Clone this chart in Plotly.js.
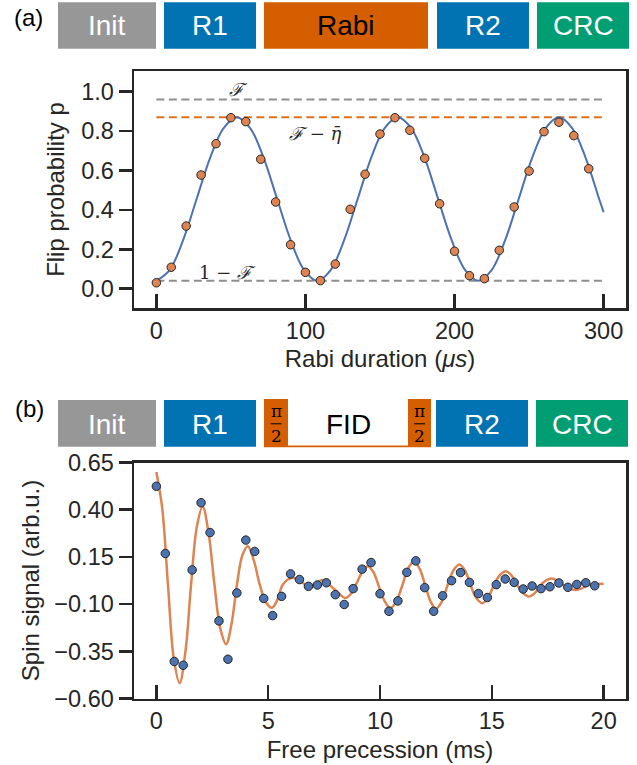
<!DOCTYPE html>
<html>
<head>
<meta charset="utf-8">
<script src="https://cdn.plot.ly/plotly-3.0.1.min.js"></script>
<style>html,body{margin:0;padding:0;background:#fff;}#chart{width:637px;height:765px;}</style>
</head>
<body>
<div id="chart"></div>
<script>
// ---- Panel (a): Rabi oscillation ----
const rabiX = [0,10,20,30,40,50,60,70,80,90,100,110,120,130,140,150,160,170,180,190,200,210,220,230,240,250,260,270,280,290];
const rabiP = [0.030,0.109,0.318,0.577,0.736,0.868,0.848,0.657,0.440,0.223,0.083,0.041,0.125,0.403,0.581,0.785,0.868,0.804,0.662,0.431,0.190,0.066,0.051,0.195,0.415,0.597,0.797,0.845,0.777,0.609];
const rabiFitX = [0,9,18,27,36,45,54,63,72,81,90,99,108,117,126,135,144,153,162,171,180,189,198,207,216,225,234,243,252,261,270,279,288,297,300];
const rabiFitP = [0.040,0.096,0.248,0.455,0.663,0.814,0.870,0.814,0.663,0.455,0.248,0.096,0.040,0.096,0.248,0.455,0.663,0.814,0.870,0.814,0.663,0.455,0.248,0.096,0.040,0.096,0.248,0.455,0.663,0.814,0.870,0.814,0.663,0.455,0.388];
const levelX = [0,300];
const levelF = 0.96, levelFeta = 0.87, level1F = 0.04;

// ---- Panel (b): FID ----
const fidX = [0,0.4,0.8,1.2,1.6,2.0,2.4,2.8,3.2,3.6,4.0,4.4,4.8,5.2,5.6,6.0,6.4,6.8,7.2,7.6,8.0,8.4,8.8,9.2,9.6,10.0,10.4,10.8,11.2,11.6,12.0,12.4,12.8,13.2,13.6,14.0,14.4,14.8,15.2,15.6,16.0,16.4,16.8,17.2,17.6,18.0,18.4,18.8,19.2,19.6];
const fidS = [0.524,0.168,-0.404,-0.424,0.081,0.437,0.279,-0.189,-0.392,-0.041,0.239,0.179,-0.070,-0.161,-0.059,0.060,0.030,-0.006,0.001,0.013,-0.050,-0.102,-0.018,0.085,0.120,-0.045,-0.138,-0.083,0.068,0.129,-0.013,-0.138,-0.056,0.024,0.067,0.015,-0.044,-0.065,0.003,0.033,0.015,-0.020,-0.004,-0.018,-0.008,0.012,-0.011,0.004,0.013,-0.003];
const fidFitX = [0,0.26,0.52,0.78,1.04,1.30,1.55,1.81,2.07,2.33,2.60,2.86,3.12,3.36,3.60,3.85,4.09,4.36,4.63,4.90,5.17,5.40,5.64,5.88,6.11,6.48,6.84,7.15,7.45,7.95,8.45,8.70,8.95,9.20,9.45,9.70,9.96,10.21,10.47,10.73,11.0,11.25,11.52,11.77,12.02,12.27,12.50,12.76,13.02,13.28,13.55,13.80,14.05,14.30,14.57,14.83,15.09,15.35,15.62,15.88,16.14,16.40,16.66,16.92,17.17,17.42,17.66,17.93,18.20,18.47,18.74,19.0,19.3,19.6,20.0];
const fidFitS = [0.600,0.41,0.0,-0.39,-0.518,-0.35,0.0,0.31,0.417,0.28,0.0,-0.23,-0.312,-0.205,0.0,0.16,0.207,0.13,0.0,-0.09,-0.119,-0.08,0.0,0.03,0.040,0.017,-0.006,0.012,0.027,-0.02,-0.068,-0.045,0.01,0.07,0.100,0.07,-0.01,-0.085,-0.121,-0.085,0.0,0.088,0.124,0.088,0.0,-0.088,-0.125,-0.088,0.0,0.078,0.110,0.078,0.0,-0.067,-0.095,-0.067,0.0,0.052,0.074,0.052,0.0,-0.042,-0.060,-0.042,0.0,0.025,0.036,0.025,0.0,-0.018,-0.025,-0.018,0.0,0.006,0.008];

// ---- Tick labels ----
const aXTicks = [0,100,200,300];
const aYTicks = [0.0,0.2,0.4,0.6,0.8,1.0];
const bXTicks = [0,5,10,15,20];
const bYTicks = [0.65,0.40,0.15,-0.10,-0.35,-0.60];

// ---- Pulse sequence labels ----
const seqA = ["Init","R1","Rabi","R2","CRC"];
const seqB = ["Init","R1","FID","R2","CRC"];

const W = 637, H = 765;
const px = v => v / W;
const py = v => 1 - v / H;

const INK = '#262626';
const FONT = 'Liberation Sans, Arial, sans-serif';
const GRAY = '#979797', BLUE = '#0173B2', VERM = '#D55E00', GREEN = '#029E73';
const PT_OR = '#DD8452', PT_BL = '#4C72B0';

const traces = [
  {x: levelX, y: [levelF, levelF], mode: 'lines', line: {color: '#8f8f8f', width: 2, dash: '8px,4.5px'}, xaxis: 'x', yaxis: 'y', hoverinfo: 'skip'},
  {x: levelX, y: [levelFeta, levelFeta], mode: 'lines', line: {color: '#E0701E', width: 2, dash: '8px,4.5px'}, xaxis: 'x', yaxis: 'y', hoverinfo: 'skip'},
  {x: levelX, y: [level1F, level1F], mode: 'lines', line: {color: '#8f8f8f', width: 2, dash: '8px,4.5px'}, xaxis: 'x', yaxis: 'y', hoverinfo: 'skip'},
  {x: rabiFitX, y: rabiFitP, mode: 'lines', line: {color: PT_BL, width: 2, shape: 'spline', smoothing: 1}, xaxis: 'x', yaxis: 'y'},
  {x: rabiX, y: rabiP, mode: 'markers', marker: {color: PT_OR, size: 8.5, line: {color: INK, width: 1}}, xaxis: 'x', yaxis: 'y'},
  {x: fidFitX, y: fidFitS, mode: 'lines', line: {color: PT_OR, width: 2.5, shape: 'spline', smoothing: 1}, xaxis: 'x2', yaxis: 'y2'},
  {x: fidX, y: fidS, mode: 'markers', marker: {color: PT_BL, size: 8.5, line: {color: INK, width: 1}}, xaxis: 'x2', yaxis: 'y2'}
];

const TICKSZ = 23.5, TITLESZ = 24;
const axisCommon = {
  showgrid: false, zeroline: false, showline: true, mirror: true,
  linecolor: INK, linewidth: 2.5, tickcolor: INK, tickwidth: 2.5,
  tickfont: {family: FONT, size: TICKSZ, color: INK}
};
const xdom = [px(134), px(626)];

const layout = {
  width: W, height: H,
  margin: {l: 0, r: 0, t: 0, b: 0},
  paper_bgcolor: '#fff', plot_bgcolor: '#fff',
  showlegend: false,
  xaxis: Object.assign({}, axisCommon, {
    domain: xdom, anchor: 'y', range: [-15, 315],
    tickmode: 'array', tickvals: aXTicks, ticktext: aXTicks.map(String),
    ticks: 'inside', ticklen: 14,
    title: {text: 'Rabi duration (<i>μs</i>)', font: {family: FONT, size: TITLESZ, color: INK}, standoff: 8}
  }),
  yaxis: Object.assign({}, axisCommon, {
    domain: [py(308), py(71)], anchor: 'x', range: [-0.098, 1.105],
    tickmode: 'array', tickvals: aYTicks, ticktext: aYTicks.map(v => v.toFixed(1)),
    ticks: 'outside', ticklen: 13,
    title: {text: 'Flip probability p', font: {family: FONT, size: TITLESZ, color: INK}, standoff: 10}
  }),
  xaxis2: Object.assign({}, axisCommon, {
    domain: xdom, anchor: 'y2', range: [-1, 21],
    tickmode: 'array', tickvals: bXTicks, ticktext: bXTicks.map(String),
    ticks: 'inside', ticklen: 14,
    title: {text: 'Free precession (ms)', font: {family: FONT, size: TITLESZ, color: INK}, standoff: 8}
  }),
  yaxis2: Object.assign({}, axisCommon, {
    domain: [py(698.5), py(462.5)], anchor: 'x2', range: [-0.6, 0.65],
    tickmode: 'array', tickvals: bYTicks, ticktext: bYTicks.map(v => (v < 0 ? '\u2212' : '') + Math.abs(v).toFixed(2)),
    ticks: 'outside', ticklen: 13,
    title: {text: 'Spin signal (arb.u.)', font: {family: FONT, size: TITLESZ, color: INK}, standoff: 8}
  }),
  shapes: [],
  annotations: []
};

function box(x0, x1, y0, y1, color) {
  layout.shapes.push({type: 'rect', xref: 'paper', yref: 'paper', x0: px(x0), x1: px(x1), y0: py(y1), y1: py(y0), fillcolor: color, line: {width: 0}, layer: 'above'});
}
function label(text, cx, cy, color, size, family) {
  layout.annotations.push({xref: 'paper', yref: 'paper', x: px(cx), y: py(cy), text: text, showarrow: false, xanchor: 'center', yanchor: 'middle', font: {family: family || FONT, size: size, color: color}});
}

// Panel (a) sequence
const aBoxes = [[58,156,GRAY,'#fff'],[164,256,BLUE,'#fff'],[264,428,VERM,'#000'],[437,529,BLUE,'#fff'],[537,629,GREEN,'#fff']];
aBoxes.forEach((b, i) => { box(b[0], b[1], 2.3, 48.7, b[2]); label(seqA[i], (b[0] + b[1]) / 2, 26, b[3], 28); });
label('(a)', 28, 17, '#000', 24);

// Panel (b) sequence
const bBoxes = [[58,156,GRAY,'#fff'],[164,256,BLUE,'#fff'],[null,null,null,'#000'],[436,528,BLUE,'#fff'],[536,628,GREEN,'#fff']];
bBoxes.forEach((b, i) => { if (b[0] !== null) { box(b[0], b[1], 400, 446.7, b[2]); label(seqB[i], (b[0] + b[1]) / 2, 424, b[3], 28); } });
box(264, 288, 399, 447.3, VERM);
box(408, 431, 399, 447.3, VERM);
layout.shapes.push({type: 'line', xref: 'paper', yref: 'paper', x0: px(288), x1: px(408), y0: py(446.3), y1: py(446.3), line: {color: VERM, width: 1.8}});
label(seqB[2], 348, 424, '#000', 28);
const SERIF = 'DejaVu Serif, Liberation Serif, serif';
[276, 419.5].forEach(cx => {
  label('π', cx, 411, '#000', 17, SERIF);
  label('2', cx, 436, '#000', 17, SERIF);
  layout.shapes.push({type: 'line', xref: 'paper', yref: 'paper', x0: px(cx - 5.5), x1: px(cx + 5.5), y0: py(423.8), y1: py(423.8), line: {color: '#000', width: 1}});
});
label('(b)', 29, 408, '#000', 24);

// Panel (a) level annotations
layout.annotations.push({xref: 'x', yref: 'y', x: 55, y: 1.012, text: '<i>ℱ</i>', showarrow: false, font: {family: SERIF, size: 18, color: INK}});
layout.annotations.push({xref: 'x', yref: 'y', x: 107, y: 0.79, text: '<i>ℱ</i> − <i>η̄</i>', showarrow: false, font: {family: SERIF, size: 18, color: INK}});
layout.annotations.push({xref: 'x', yref: 'y', x: 47.5, y: 0.083, text: '1 − <i>ℱ</i>', showarrow: false, font: {family: SERIF, size: 18, color: INK}});

Plotly.newPlot('chart', traces, layout, {displayModeBar: false, staticPlot: true});
</script>
</body>
</html>
